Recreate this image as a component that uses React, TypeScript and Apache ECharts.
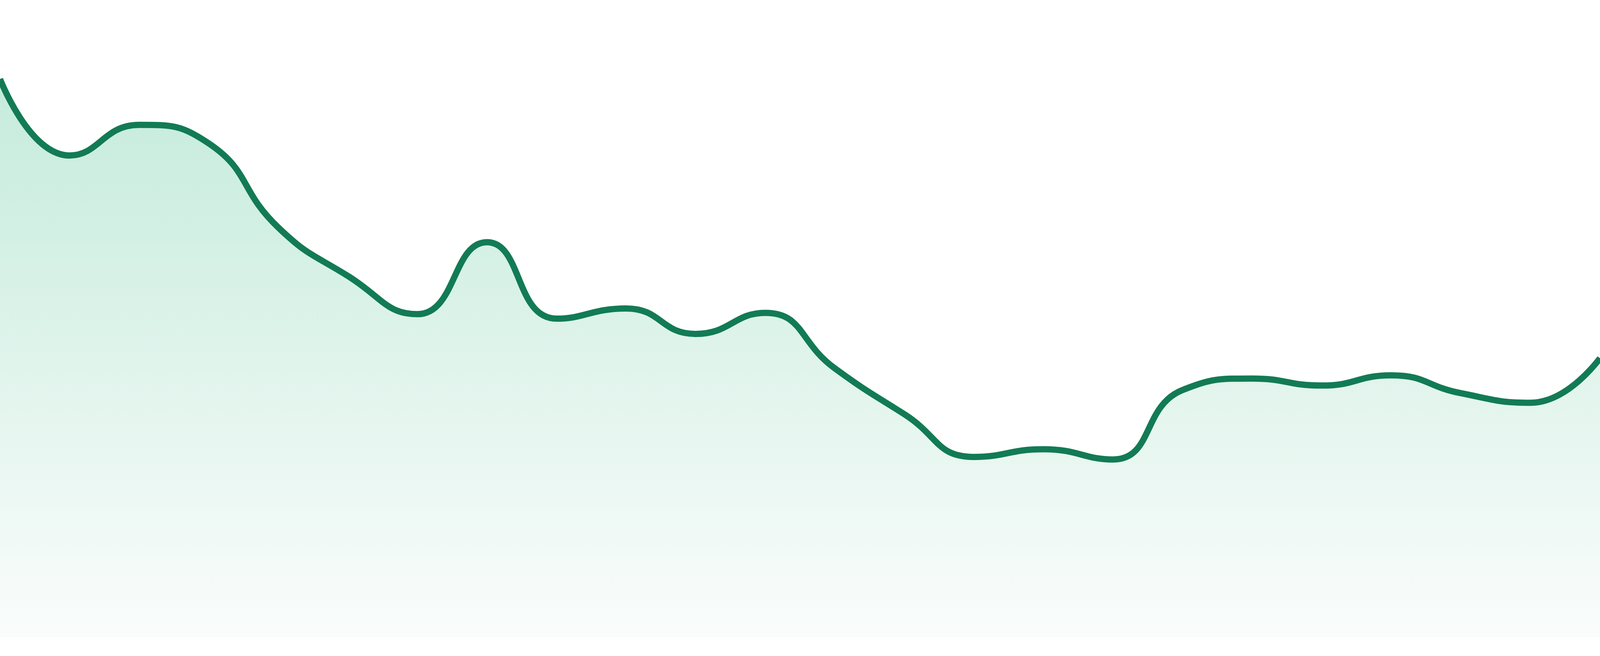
import React, { useEffect, useRef } from 'react';
import * as echarts from 'echarts';
import type { EChartsOption } from 'echarts';

// 24 evenly spaced samples (0–100 scale)
const categories = [
  'P01', 'P02', 'P03', 'P04', 'P05', 'P06', 'P07', 'P08',
  'P09', 'P10', 'P11', 'P12', 'P13', 'P14', 'P15', 'P16',
  'P17', 'P18', 'P19', 'P20', 'P21', 'P22', 'P23', 'P24',
];

const values = [
  87.6, 75.6, 80.4, 77.5, 64.3, 56.7, 50.7, 62.0,
  50.0, 51.6, 47.6, 50.9, 42.2, 35.0, 28.3, 29.5,
  27.9, 38.8, 40.6, 39.5, 41.1, 38.3, 36.8, 43.8,
];

const yMin = 0;
const yMax = 100;

const LINE_COLOR = '#127b55';

export default function App() {
  const containerRef = useRef<HTMLDivElement>(null);

  useEffect(() => {
    if (!containerRef.current) return;
    const chart = echarts.init(containerRef.current, null, { renderer: 'svg' });

    const option: EChartsOption = {
      backgroundColor: '#ffffff',
      animation: false,
      grid: { left: 0, right: 0, top: 0, bottom: 48 },
      xAxis: {
        type: 'category',
        data: categories,
        boundaryGap: false,
        show: false,
      },
      yAxis: {
        type: 'value',
        min: yMin,
        max: yMax,
        show: false,
      },
      series: [
        {
          type: 'line',
          data: values,
          smooth: true,
          symbol: 'none',
          lineStyle: { color: LINE_COLOR, width: 16 },
          areaStyle: {
            color: new echarts.graphic.LinearGradient(0, 0, 0, 1, [
              { offset: 0, color: '#ace3cd' },
              { offset: 1, color: '#f8fbfa' },
            ]),
          },
        },
      ],
    };

    chart.setOption(option);
    const onResize = () => chart.resize();
    window.addEventListener('resize', onResize);
    return () => {
      window.removeEventListener('resize', onResize);
      chart.dispose();
    };
  }, []);

  return (
    <div
      ref={containerRef}
      style={{ position: 'fixed', left: 0, top: 0, width: '100vw', height: '100vh' }}
    />
  );
}
